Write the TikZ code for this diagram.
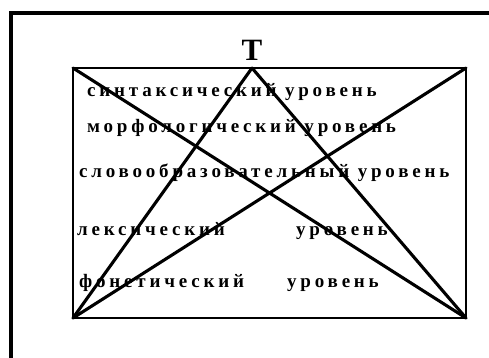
\documentclass[tikz,border=0pt]{standalone}
\usepackage{fontspec}
\setmainfont{Liberation Serif}
\newfontfamily\lvlfont[LetterSpace=20]{Liberation Serif}
\usetikzlibrary{positioning}

\begin{document}
\begin{tikzpicture}[x=1pt, y=-1pt,
    lvl/.style={anchor=base west, inner sep=0pt,
                font=\lvlfont\bfseries\fontsize{19}{21}\selectfont},
    ttl/.style={inner sep=0pt, font=\bfseries\fontsize{31}{33}\selectfont},
    edge/.style={line width=3.1pt, line cap=round},
    box/.style={line width=1.8pt},
    frame/.style={line width=3.4pt}
  ]
    \useasboundingbox (0,0) rectangle (489,358);
    % outer frame (only top and left visible)
    \draw[frame] (489,13) -- (11,13) -- (11,358);
    % corners of the square
    \coordinate (tl) at (73,68);
    \coordinate (tr) at (466,68);
    \coordinate (bl) at (73,318);
    \coordinate (br) at (466,318);
    \coordinate (apex) at (252,68);
    \node[ttl, above=7pt of apex] (t) {Т};
    % levels
    \node[lvl] (syn)     at (87,97)  {синтаксический уровень};
    \node[lvl] (morph)   at (87,133) {морфологический уровень};
    \node[lvl] (deriv)   at (79,177) {словообразовательный уровень};
    \node[lvl] (lex)     at (77,235) {лексический};
    \node[lvl] (lexlvl)  at (296,235){уровень};
    \node[lvl] (phon)    at (79,287) {фонетический};
    \node[lvl] (phonlvl) at (287,287){уровень};
    \draw[box] (tl) -- (tr) -- (br) -- (bl) -- cycle;
    \draw[edge] (tl) -- (br);
    \draw[edge] (tr) -- (bl);
    \draw[edge] (apex) -- (bl);
    \draw[edge] (apex) -- (br);
\end{tikzpicture}
\end{document}
